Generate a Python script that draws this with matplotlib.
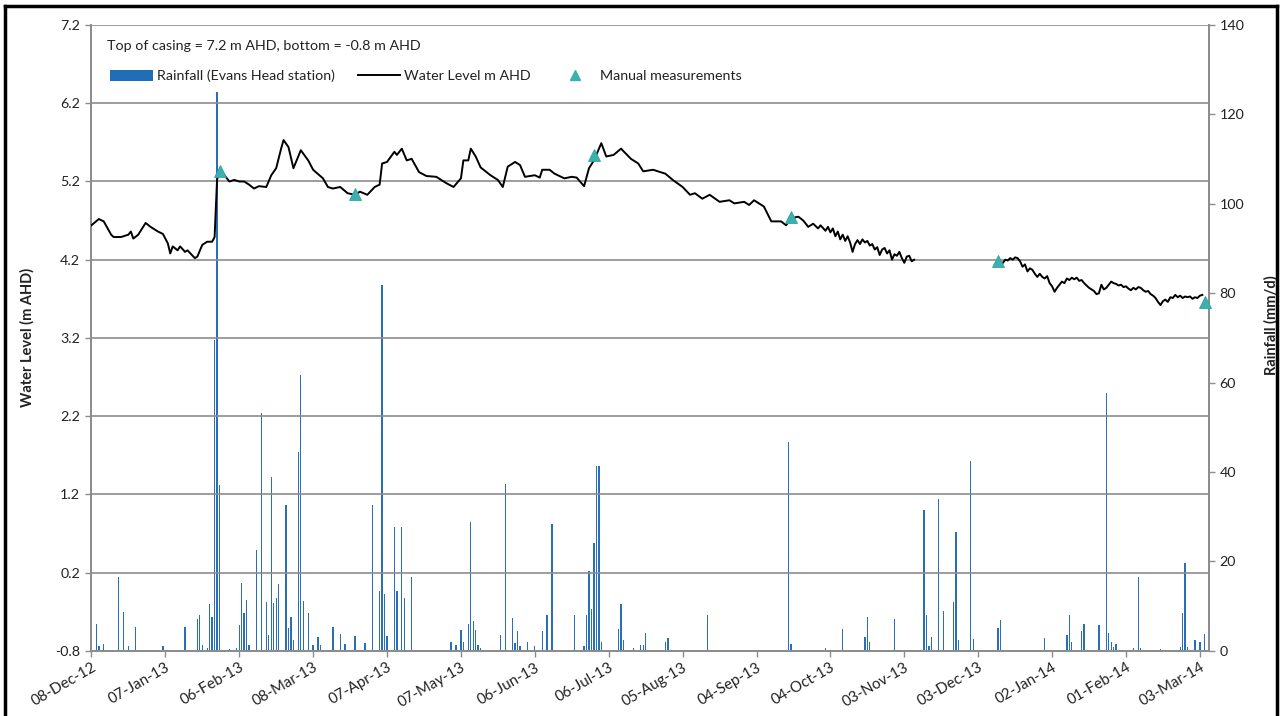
import datetime as dt
import matplotlib
matplotlib.use("Agg")
import matplotlib.pyplot as plt
from matplotlib.lines import Line2D
from matplotlib.patches import Patch

# ---------------- data (day offsets from 08-Dec-2012) ----------------
START = dt.date(2012, 12, 8)

rain_day = [2, 3, 5, 11, 13, 15, 18, 29, 38, 43, 44, 45, 47, 48, 49, 50, 51, 52,
            56, 59, 60, 61, 62, 63, 64, 67, 69, 71, 72, 73, 74, 75, 76, 79, 80, 81,
            82, 84, 85, 86, 88, 90, 92, 93, 98, 101, 103, 107, 111, 114, 117, 118,
            119, 120, 123, 124, 126, 127, 130, 146, 148, 150, 151, 153, 154, 155,
            156, 157, 158, 166, 168, 171, 172, 173, 174, 177, 180, 183, 185, 187,
            196, 200, 201, 202, 203, 204, 205, 206, 207, 214, 215, 216, 220, 223,
            224, 225, 233, 234, 250, 283, 284, 298, 305, 314, 315, 316, 326, 338,
            339, 340, 341, 344, 346, 350, 351, 352, 357, 358, 368, 369, 387, 396,
            397, 398, 402, 403, 409, 412, 413, 414, 415, 416, 423, 425, 426, 434,
            442, 443, 444, 445, 448, 450, 452]
rain_mm = [6.0, 1.0, 1.4, 16.4, 8.7, 1.0, 5.2, 1.0, 5.4, 7.2, 7.9, 1.3, 0.5, 10.4,
           7.6, 69.5, 125.0, 37.0,
           0.3, 0.7, 5.7, 15.1, 8.5, 11.3, 1.3, 22.5, 53.3, 11.0, 3.5, 38.9, 10.7,
           11.7, 14.9, 32.6, 5.0, 7.6,
           2.5, 44.4, 61.7, 11.2, 8.5, 1.3, 3.1, 1.3, 5.2, 3.7, 1.4, 3.4, 1.7, 32.5,
           13.4, 81.8,
           12.8, 3.3, 27.7, 13.4, 27.7, 11.7, 16.6, 1.9, 1.3, 4.6, 2.0, 6.0, 28.9, 6.7,
           4.6, 1.3, 0.7, 3.5, 37.3, 7.4, 1.7, 4.3, 1.0, 2.0, 1.0, 4.3, 8.1, 28.3,
           8.0, 1.1, 8.1, 17.8, 9.3, 24.0, 41.3, 41.3, 2.0, 4.8, 10.4, 2.5, 0.7, 1.3,
           1.3, 3.9, 2.0, 2.8, 8.0, 46.8, 1.4, 0.5, 4.8, 3.1, 7.5, 2.0, 7.2, 31.5,
           8.0, 1.0, 3.0, 33.9, 8.9, 11.0, 26.5, 2.4, 42.4, 2.6, 5.1, 6.9, 2.9, 3.5,
           8.1, 1.9, 4.3, 6.0, 5.7, 57.7, 3.9, 1.9, 0.8, 1.5, 0.5, 16.4, 0.5, 0.4,
           0.8, 8.5, 19.7, 0.8, 2.5, 2.0, 3.7]

# logger record, first part (to early Nov 2013)
level_day_a = [0, 3, 5, 8, 9, 12, 15, 16, 17, 19, 22, 24, 27, 29, 31, 32, 33, 35,
               36, 38, 39, 42, 43, 45, 47, 49, 50, 51, 52, 54, 56, 58, 60, 62, 64,
               66, 68, 71, 73, 75, 77, 78, 80, 82, 85, 88, 90, 94, 96, 98, 101, 104,
               107, 109, 112, 115, 117, 118, 120, 123, 124, 126, 128, 130, 133, 136,
               140, 144, 147, 150, 151, 153, 154, 156, 158, 162, 165, 167, 169, 172,
               174, 176, 180, 182, 183, 186, 188, 192, 195, 197, 200, 202, 204, 207,
               209, 212, 215, 219, 222, 224, 228, 233, 236, 240, 243, 245, 248, 251,
               255, 259, 261, 265, 267, 269, 273, 276, 280, 282, 284, 287, 289, 291,
               293, 295, 296, 298, 299, 300, 301, 302, 303, 304, 305, 306, 307, 308,
               309, 310, 311, 312, 313, 314, 315, 316, 317, 318, 319, 320, 321, 322,
               323, 324, 325, 326, 327, 328, 329, 330, 331, 332, 333, 334]
level_m_a = [4.64, 4.72, 4.69, 4.52, 4.49, 4.49, 4.52, 4.56, 4.47, 4.52, 4.67, 4.62,
             4.56, 4.53, 4.41, 4.28, 4.37, 4.32, 4.37, 4.30, 4.32, 4.22, 4.24, 4.39,
             4.43, 4.43, 4.49, 5.22, 5.35, 5.28, 5.20, 5.22, 5.20, 5.20, 5.16, 5.11,
             5.14, 5.13, 5.28, 5.37, 5.62, 5.73, 5.64, 5.37, 5.60, 5.47, 5.35, 5.24,
             5.13, 5.11, 5.13, 5.05, 5.03, 5.07, 5.03, 5.13, 5.16, 5.43, 5.45, 5.58,
             5.54, 5.62, 5.47, 5.49, 5.32, 5.27, 5.26, 5.18, 5.13, 5.24, 5.47, 5.47,
             5.62, 5.52, 5.38, 5.28, 5.22, 5.13, 5.39, 5.45, 5.41, 5.26, 5.28, 5.25,
             5.35, 5.35, 5.30, 5.24, 5.26, 5.25, 5.14, 5.37, 5.47, 5.69, 5.52, 5.54,
             5.62, 5.49, 5.43, 5.33, 5.35, 5.30, 5.22, 5.13, 5.03, 5.05, 4.98, 5.03,
             4.94, 4.96, 4.92, 4.94, 4.90, 4.96, 4.88, 4.69, 4.69, 4.64, 4.73, 4.75,
             4.70, 4.62, 4.66, 4.60, 4.64, 4.57, 4.62, 4.55, 4.60, 4.50, 4.56, 4.46,
             4.52, 4.44, 4.50, 4.42, 4.30, 4.40, 4.45, 4.40, 4.46, 4.42, 4.44, 4.38,
             4.40, 4.33, 4.36, 4.26, 4.33, 4.35, 4.28, 4.32, 4.20, 4.27, 4.25, 4.30,
             4.22, 4.16, 4.24, 4.25, 4.18, 4.20]

# logger record, second part (from early Dec 2013)
level_day_b = list(range(370, 452))
level_m_b = [4.16, 4.20, 4.19, 4.22, 4.20, 4.23, 4.22, 4.18, 4.11, 4.14, 4.05, 4.09,
             4.07, 4.02, 3.98, 4.02, 3.98, 3.96, 3.99, 3.90, 3.86, 3.79, 3.84, 3.88,
             3.92, 3.90, 3.96, 3.94, 3.97, 3.95, 3.97, 3.93, 3.94, 3.90, 3.87, 3.84,
             3.82, 3.80, 3.76, 3.77, 3.88, 3.82, 3.84, 3.88, 3.92, 3.90, 3.89, 3.87,
             3.88, 3.85, 3.86, 3.83, 3.81, 3.84, 3.82, 3.85, 3.84, 3.81, 3.79, 3.80,
             3.76, 3.74, 3.71, 3.66, 3.62, 3.67, 3.69, 3.66, 3.72, 3.71, 3.75, 3.72,
             3.74, 3.71, 3.73, 3.72, 3.73, 3.70, 3.72, 3.71, 3.74, 3.75]

manual_day = [52, 107, 204, 284, 368, 452]
manual_m = [5.33, 5.04, 5.54, 4.75, 4.18, 3.66]

tick_labels = ["08-Dec-12", "07-Jan-13", "06-Feb-13", "08-Mar-13", "07-Apr-13",
               "07-May-13", "06-Jun-13", "06-Jul-13", "05-Aug-13", "04-Sep-13",
               "04-Oct-13", "03-Nov-13", "03-Dec-13", "02-Jan-14", "01-Feb-14",
               "03-Mar-14"]
level_ticks = [-0.8, 0.2, 1.2, 2.2, 3.2, 4.2, 5.2, 6.2, 7.2]
rain_ticks = [0, 20, 40, 60, 80, 100, 120, 140]

# ---------------- styling ----------------
plt.rcParams['font.family'] = ['Lato', 'DejaVu Sans']
FS = 10.3
GRID = '#8c8c8c'
TXT = '#222222'
RAIN_C = '#2A6EB8'
TRI_C = '#3BB0AE'

W, H = 1282, 716
fig = plt.figure(figsize=(W / 100, H / 100), dpi=100)
L, R, T, B = 90.7, 1209, 25.1, 650.7
ax = fig.add_axes([L / W, 1 - B / H, (R - L) / W, (B - T) / H])
ax2 = ax.twinx()

# rainfall on secondary axis (drawn behind)
ax2.bar(rain_day, rain_mm, width=0.55, color=RAIN_C, linewidth=0, align='center')
ax2.set_ylim(0, 140)
ax2.set_yticks(rain_ticks)

# water level on primary axis (in front)
ax.set_zorder(ax2.get_zorder() + 1)
ax.patch.set_visible(False)
ax.plot(level_day_a, level_m_a, color='black', lw=1.4, zorder=3)
ax.plot(level_day_b, level_m_b, color='black', lw=1.4, zorder=3)
ax.plot(manual_day, manual_m, ls='none', marker='^', ms=8.5, color=TRI_C,
        markeredgecolor='#2fa3a0', markeredgewidth=0.6, zorder=4, clip_on=False)

ax.set_xlim(-0.3, 453.7)
ax.set_ylim(-0.8, 7.2)
ax.set_yticks(level_ticks)
ax.set_yticklabels([f"{v:.1f}" for v in level_ticks])
ax.set_xticks(range(0, 451, 30))
ax.set_xticklabels(tick_labels, rotation=30, ha='right', rotation_mode='anchor')
ax.yaxis.grid(True, color=GRID, lw=1.2)
ax.set_axisbelow(True)

for a in (ax, ax2):
    for s in a.spines.values():
        s.set_color(GRID)
        s.set_linewidth(1.3)
    a.spines['top'].set_visible(False)
    a.tick_params(colors=GRID, labelcolor=TXT, length=4, width=1, labelsize=FS)
ax.tick_params(axis='x', pad=3, labelsize=10.8)

ax.set_ylabel("Water Level (m AHD)", fontweight='bold', color=TXT, fontsize=10.5)
ax.yaxis.set_label_coords(-0.05, 0.5)
ax2.set_ylabel("Rainfall (mm/d)", fontweight='bold', color=TXT, fontsize=10.5)
ax2.yaxis.set_label_coords(1.049, 0.52)

ax.text(0.0146, 0.966, "Top of casing = 7.2 m AHD, bottom = -0.8 m AHD",
        transform=ax.transAxes, ha='left', va='center', color=TXT, fontsize=FS)

handles = [Patch(facecolor='#1F6EB7', edgecolor='none'),
           Line2D([], [], color='black', lw=1.4),
           Line2D([], [], ls='none', marker='^', ms=7, color=TRI_C)]
labels = ["Rainfall (Evans Head station)", "Water Level m AHD", "Manual measurements"]
leg = ax.legend(handles, labels, ncol=3, loc='center left',
                bbox_to_anchor=(0.006, 0.919), frameon=False, fontsize=FS,
                handlelength=3.0, handleheight=0.8, handletextpad=0.25,
                columnspacing=1.6)
for t in leg.get_texts():
    t.set_color(TXT)

# outer frame of the screenshot
for (xs, ys) in [((5, 5), (0, H - 6)), ((5, W - 5), (H - 6, H - 6)),
                 ((W - 5, W - 5), (H - 6, 0))]:
    fig.add_artist(Line2D([x / W for x in xs], [y / H for y in ys],
                          color='black', lw=2.5, transform=fig.transFigure))

fig.savefig("out.png", dpi=100)
